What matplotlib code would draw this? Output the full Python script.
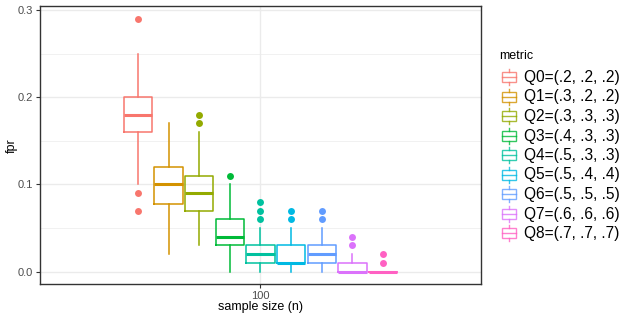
import matplotlib
matplotlib.use("Agg")
import matplotlib.pyplot as plt
from matplotlib.patches import Rectangle
from matplotlib.ticker import MultipleLocator, FormatStrFormatter

plt.rcParams["font.family"] = ["Liberation Sans", "DejaVu Sans"]

# box statistics (fpr at sample size n = 100)
metrics = ["Q0=(.2, .2, .2)", "Q1=(.3, .2, .2)", "Q2=(.3, .3, .3)",
           "Q3=(.4, .3, .3)", "Q4=(.5, .3, .3)", "Q5=(.5, .4, .4)",
           "Q6=(.5, .5, .5)", "Q7=(.6, .6, .6)", "Q8=(.7, .7, .7)"]
whislo = [0.10, 0.02, 0.03, 0.00, 0.00, 0.00, 0.00, 0.00, 0.00]
q1 = [0.16, 0.0775, 0.07, 0.03, 0.01, 0.01, 0.01, 0.00, 0.00]
med = [0.18, 0.10, 0.09, 0.04, 0.02, 0.01, 0.02, 0.00, 0.00]
q3 = [0.20, 0.12, 0.11, 0.06, 0.03, 0.03, 0.03, 0.01, 0.00]
whishi = [0.25, 0.17, 0.16, 0.10, 0.05, 0.05, 0.05, 0.02, 0.00]
fliers = [[0.29, 0.09, 0.07], [], [0.17, 0.18], [0.11],
          [0.06, 0.07, 0.08], [0.06, 0.07], [0.06, 0.07],
          [0.03, 0.04], [0.01, 0.02]]
colors = ["#F8766D", "#D39200", "#93AA00", "#00BA38", "#00C19F",
          "#00B9E3", "#619CFF", "#DB72FB", "#FF61C3"]
x_label = "100"

fig = plt.figure(figsize=(6.4, 3.2), dpi=100)
ax = fig.add_axes([40 / 640, 1 - 284.3 / 320, 441 / 640, 278.3 / 320])

n = len(metrics)
slot = 0.75 / n
for i in range(n):
    pos = 1 + (i - (n - 1) / 2) * slot
    st = [dict(med=med[i], q1=q1[i], q3=q3[i], whislo=whislo[i],
               whishi=whishi[i], fliers=fliers[i])]
    c = colors[i]
    ax.bxp(st, positions=[pos], widths=0.077, showcaps=False,
           boxprops=dict(color=c, lw=1.1),
           whiskerprops=dict(color=c, lw=1.1),
           medianprops=dict(color=c, lw=2.2),
           flierprops=dict(marker="o", markerfacecolor=c, markeredgecolor="none",
                           markersize=5), manage_ticks=False)

ax.set_xlim(0.4, 1.6)
ax.set_ylim(-0.0145, 0.3045)
ax.set_xticks([1])
ax.set_xticklabels([x_label])
ax.yaxis.set_major_locator(MultipleLocator(0.1))
ax.yaxis.set_minor_locator(MultipleLocator(0.05))
ax.yaxis.set_major_formatter(FormatStrFormatter("%.1f"))
ax.grid(True, which="major", color="#EBEBEB", lw=1.0)
ax.grid(True, which="minor", axis="y", color="#EBEBEB", lw=0.5)
ax.set_axisbelow(True)
ax.tick_params(which="major", length=3, width=0.8, color="#333333",
               labelsize=8, labelcolor="#4D4D4D", pad=2)
ax.tick_params(which="minor", length=0)
for s in ax.spines.values():
    s.set_color("#333333")
    s.set_linewidth(1.0)
ax.set_xlabel("sample size (n)", fontsize=9, va="center")
ax.set_ylabel("fpr", fontsize=9, va="center")
ax.xaxis.set_label_coords(0.5, -0.082)
ax.yaxis.set_label_coords(-0.063, 0.5)

# legend drawn in pixel coordinates
lg = fig.add_axes([0, 0, 1, 1])
lg.set_xlim(0, 640)
lg.set_ylim(320, 0)
lg.axis("off")
lg.patch.set_alpha(0)
lg.text(499, 56, "metric", fontsize=9, va="center", ha="left")
for i in range(n):
    yc = 77 + i * 19.5
    c = colors[i]
    lg.plot([509, 509], [yc - 8, yc - 5], color=c, lw=1.0, alpha=0.8)
    lg.plot([509, 509], [yc + 5, yc + 8], color=c, lw=1.0, alpha=0.8)
    lg.add_patch(Rectangle((502, yc - 5), 14, 10, fill=False, ec=c, lw=1.0, alpha=0.8))
    lg.plot([502, 516], [yc, yc], color=c, lw=1.0, alpha=0.8)
    lg.text(524, yc + 0.5, metrics[i], fontsize=11.2, va="center", ha="left")

fig.savefig("out.png", dpi=100)
